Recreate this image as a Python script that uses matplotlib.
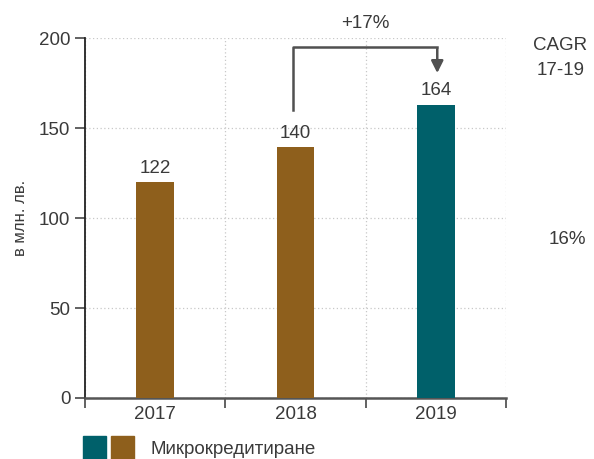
import matplotlib.pyplot as plt
from matplotlib.patches import Rectangle

# data
years = ["2017", "2018", "2019"]
values = [120, 139.5, 163]
value_labels = ["122", "140", "164"]
colors = ["#8E5F1C", "#8E5F1C", "#00606A"]
growth_label = "+17%"
cagr_label = "16%"
series_name = "Микрокредитиране"

plt.rcParams['font.family'] = ['Liberation Sans', 'DejaVu Sans']
txt = "#3a3a3a"
fs = 13.5

fig = plt.figure(figsize=(5.94, 4.59), dpi=100)
ax = fig.add_axes([0.1431, 0.1329, 0.7088, 0.7843])

x = list(range(len(years)))
ax.bar(x, values, width=0.27, color=colors, zorder=3)
for xi, v, lab in zip(x, values, value_labels):
    ax.text(xi, v + 3, lab, ha='center', va='bottom', fontsize=fs, color=txt)

ax.set_xlim(-0.5, 2.5)
ax.set_ylim(0, 200)
ax.set_yticks([0, 50, 100, 150, 200])
ax.set_xticks([-0.5, 0.5, 1.5, 2.5], minor=False)
ax.set_xticklabels([])
ax.set_xticks(x, minor=True)
ax.set_xticklabels(years, minor=True)
ax.tick_params(axis='x', which='minor', length=0, labelsize=fs, labelcolor=txt, pad=6)
ax.tick_params(axis='x', which='major', length=7, width=1.3, color="#555555", direction='out')
ax.tick_params(axis='y', length=7, width=1.3, labelsize=fs, labelcolor=txt, color="#555555")

ax.grid(True, which='major', linestyle=(0, (1, 2)), color="#c8c8c8", linewidth=0.9, zorder=0)
for s in ['top', 'right']:
    ax.spines[s].set_visible(False)
ax.spines['left'].set_color("#222222")
ax.spines['left'].set_linewidth(1.3)
ax.spines['bottom'].set_color("#555555")
ax.spines['bottom'].set_linewidth(1.8)

ax.set_ylabel("в млн. лв.", fontsize=12, color=txt, labelpad=8)

# growth bracket
ax.plot([0.98, 0.98, 2.01], [160, 195, 195], color="#505050", lw=1.8, clip_on=False, zorder=4)
ax.annotate("", xy=(2.01, 179), xytext=(2.01, 195.5),
            arrowprops=dict(arrowstyle='-|>', color="#505050", lw=1.8, mutation_scale=18),
            annotation_clip=False)
ax.text(1.5, 208, growth_label, ha='center', va='center', fontsize=fs, color=txt)

# CAGR column
fig.text(0.943, 0.900, "CAGR", ha='center', va='center', fontsize=fs, color=txt)
fig.text(0.943, 0.846, "17-19", ha='center', va='center', fontsize=fs, color=txt)
fig.text(0.955, 0.478, cagr_label, ha='center', va='center', fontsize=fs, color=txt)

# legend
fig.add_artist(Rectangle((83 / 594, 0), 23 / 594, 23 / 459,
                         transform=fig.transFigure, color=colors[2]))
fig.add_artist(Rectangle((111 / 594, 0), 23 / 594, 23 / 459,
                         transform=fig.transFigure, color=colors[0]))
fig.text(150 / 594, 1 - 449 / 459, series_name, ha='left', va='center', fontsize=fs, color=txt)

fig.savefig("out.png", dpi=100)
